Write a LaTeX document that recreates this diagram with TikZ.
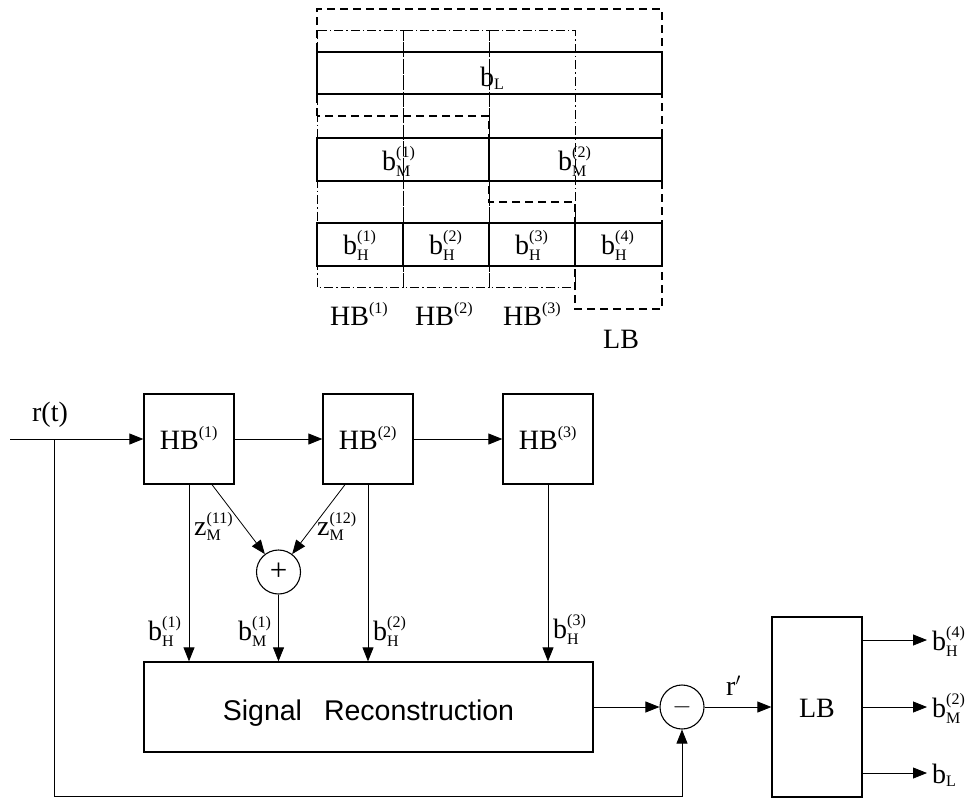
\documentclass[tikz,border=0pt]{standalone}
\usepackage{fontspec}
\usepackage{amsmath}
\setmainfont{Liberation Serif}
\setsansfont{Liberation Sans}
\usetikzlibrary{arrows.meta,calc}
\DeclareMathSizes{28}{28}{16}{11}
\newcommand\bsup[3]{$\text{#1}_{\text{#2}}^{\text{#3}}$}
\newcommand\bsub[2]{$\text{#1}_{\text{#2}}$}
\newcommand\hsup[2]{$\text{#1}^{\text{#2}}$}
\begin{document}
\begin{tikzpicture}[x=1pt,y=-1pt,
  font=\fontsize{28}{32}\selectfont,
  box/.style={draw, line width=1.3pt, inner sep=0pt, text height=21pt, text depth=0pt},
  conn/.style={line width=0.8pt},
  arr/.style={conn, -{Triangle[length=14pt,width=11pt]}},
  circ/.style={circle, draw, line width=1.1pt, minimum size=44pt, inner sep=0pt},
  cell/.style={line width=1.4pt},
  dsh/.style={line width=1.2pt, dash pattern=on 8pt off 5pt},
  dd/.style={line width=1pt, dash pattern=on 9pt off 3pt on 1.5pt off 3pt},
  lab/.style={inner sep=0pt, anchor=base west}]
\useasboundingbox (0,0) rectangle (974,798);
% ---------- top band diagram ----------
\draw[dd] (317,30) rectangle (403,287);
\draw[dd] (403,30) rectangle (489,287);
\draw[dd] (489,30) rectangle (575,287);
\draw[dsh] (317,116) -- (317,9) -- (662,9) -- (662,309) -- (575,309) -- (575,202) -- (489,202) -- (489,116) -- cycle;
\draw[cell] (317,52) rectangle (662,94);
\draw[cell] (317,138) rectangle (662,181) (489,138) -- (489,181);
\draw[cell] (317,223) rectangle (662,266) (403,223) -- (403,266) (489,223) -- (489,266) (575,223) -- (575,266);
\node[lab] (tbl) at (480,86) {\bsub{b}{L}};
\node[lab] (tbm1) at (382,170) {\bsup{b}{M}{(1)}};
\node[lab] (tbm2) at (558,170) {\bsup{b}{M}{(2)}};
\node[lab] (tbh1) at (343,254) {\bsup{b}{H}{(1)}};
\node[lab] (tbh2) at (429,254) {\bsup{b}{H}{(2)}};
\node[lab] (tbh3) at (515,254) {\bsup{b}{H}{(3)}};
\node[lab] (tbh4) at (601,254) {\bsup{b}{H}{(4)}};
\node[lab] (thb1) at (330,325) {\hsup{HB}{(1)}};
\node[lab] (thb2) at (415,325) {\hsup{HB}{(2)}};
\node[lab] (thb3) at (503,325) {\hsup{HB}{(3)}};
\node[lab] (tlb) at (603,348) {LB};
% ---------- block diagram ----------
\node[box, minimum width=90pt, minimum height=90pt] (hb1) at (189,439) {\hsup{HB}{(1)}};
\node[box, minimum width=90pt, minimum height=90pt] (hb2) at (368,439) {\hsup{HB}{(2)}};
\node[box, minimum width=90pt, minimum height=90pt] (hb3) at (548,439) {\hsup{HB}{(3)}};
\node[box, minimum width=449pt, minimum height=90pt, text height=26pt,
      font=\sffamily\fontsize{28.5}{32}\selectfont] (sr) at (368.5,707) {Signal\hspace{22pt}Reconstruction};
\node[circ, font=\fontsize{31}{34}\selectfont] (plus) at (278.5,572) {+};
\node[circ] (minus) at (682,707) {$-$};
\node[box, minimum width=90pt, minimum height=180pt] (lb) at (817,707) {LB};
\coordinate (in) at (10,439);
\coordinate (br) at (54,439);
\coordinate (bot) at (54,796);
\coordinate (o1) at (927,640);
\coordinate (o2) at (927,707);
\coordinate (o3) at (927,773);
\draw[arr] (in) -- (hb1);
\draw[arr] (hb1) -- (hb2);
\draw[arr] (hb2) -- (hb3);
\draw[conn] (br) -- (bot);
\draw[arr] (bot) -| (minus);
\draw[arr] (hb1.south) -- (hb1.south |- sr.north);
\draw[arr] ($(hb1.south)+(23,0)$) -- (plus);
\draw[arr] ($(hb2.south)+(-23,0)$) -- (plus);
\draw[arr] (plus) -- (plus |- sr.north);
\draw[arr] (hb2.south) -- (hb2.south |- sr.north);
\draw[arr] (hb3.south) -- (hb3.south |- sr.north);
\draw[arr] (sr.east) -- (minus);
\draw[arr] (minus) -- (lb);
\draw[arr] (lb.east |- o1) -- (o1);
\draw[arr] (lb.east |- o2) -- (o2);
\draw[arr] (lb.east |- o3) -- (o3);
\node[inner sep=0pt, anchor=base] (rt) at (50,421) {r(t)};
\node[lab] (z11) at (194,535) {\bsup{z}{M}{(11)}};
\node[lab] (z12) at (317,535) {\bsup{z}{M}{(12)}};
\node[lab] (lh1) at (148,640) {\bsup{b}{H}{(1)}};
\node[lab] (lm1) at (238,640) {\bsup{b}{M}{(1)}};
\node[lab] (lh2) at (373,640) {\bsup{b}{H}{(2)}};
\node[lab] (lh3) at (553,638) {\bsup{b}{H}{(3)}};
\node[lab] (rp) at (726,695) {$\text{r}'$};
\node[lab] (oh4) at (932,650) {\bsup{b}{H}{(4)}};
\node[lab] (om2) at (932,717) {\bsup{b}{M}{(2)}};
\node[lab] (obl) at (932,783) {\bsub{b}{L}};
\end{tikzpicture}
\end{document}
